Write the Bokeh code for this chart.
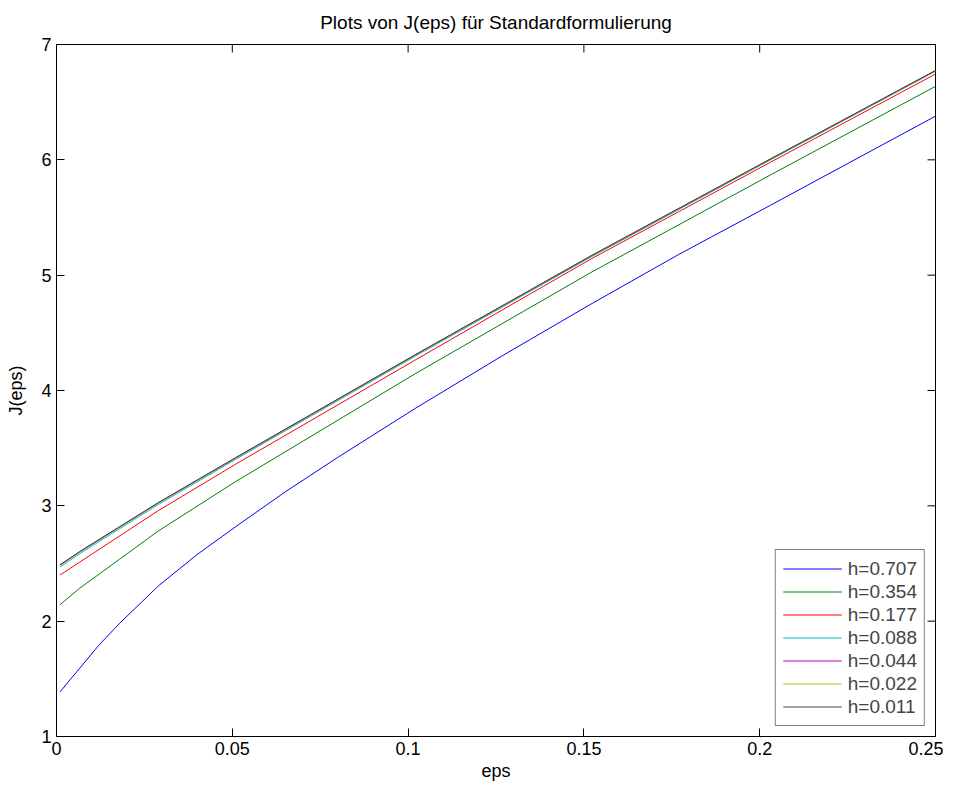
import math
from bokeh.plotting import figure
from bokeh.models import Range1d, FixedTicker, Legend, LegendItem
from bokeh.embed import file_html
from bokeh.resources import INLINE

# h = 0.707 (strongly curved, read at more points)
eps_h0707 = [0.001, 0.0066, 0.012, 0.018, 0.029, 0.040, 0.051, 0.065, 0.080,
             0.102, 0.127, 0.152, 0.177, 0.203, 0.25]
J_0707 = [1.387, 1.592, 1.790, 1.983, 2.306, 2.578, 2.820, 3.120, 3.420,
          3.844, 4.305, 4.749, 5.180, 5.605, 6.379]

# finer meshes (nearly straight)
eps = [0.001, 0.0066, 0.018, 0.029, 0.051, 0.102, 0.152, 0.203, 0.25]
J_0354 = [2.143, 2.286, 2.538, 2.783, 3.211, 4.145, 5.023, 5.868, 6.637]
J_0177 = [2.400, 2.512, 2.740, 2.959, 3.362, 4.264, 5.140, 5.978, 6.744]
J_0088 = [2.469, 2.585, 2.803, 3.012, 3.404, 4.297, 5.157, 5.998, 6.768]
J_0044 = [2.484, 2.599, 2.816, 3.025, 3.415, 4.307, 5.165, 6.005, 6.773]
J_0022 = [2.488, 2.603, 2.819, 3.028, 3.418, 4.309, 5.167, 6.006, 6.774]
J_0011 = [2.489, 2.604, 2.820, 3.029, 3.419, 4.310, 5.168, 6.007, 6.775]

labels = ["h=0.707", "h=0.354", "h=0.177", "h=0.088", "h=0.044", "h=0.022", "h=0.011"]
xs = [eps_h0707, eps, eps, eps, eps, eps, eps]
series = [J_0707, J_0354, J_0177, J_0088, J_0044, J_0022, J_0011]
colors = ["#0000ff", "#008000", "#ff0000", "#00bfbf", "#bf00bf", "#bfbf00", "#404040"]

x_ticks = [0, 0.05, 0.1, 0.15, 0.2, 0.25]
x_tick_labels = ["0", "0.05", "0.1", "0.15", "0.2", "0.25"]
y_ticks = [1, 2, 3, 4, 5, 6, 7]

FONT = "Liberation Sans"

p = figure(frame_width=879, frame_height=692, output_backend="svg", toolbar_location=None,
           x_range=Range1d(x_ticks[0], x_ticks[-1]), y_range=Range1d(y_ticks[0], y_ticks[-1]),
           min_border_left=56, min_border_top=44, min_border_right=8, min_border_bottom=45,
           title="Plots von J(eps) für Standardformulierung")
p.title.align = "center"
p.title.text_font = FONT
p.title.text_font_size = "19px"
p.title.text_font_style = "normal"
p.title.text_color = "black"
p.title.padding = (0, 0, 0, 7)

p.xgrid.visible = False
p.ygrid.visible = False
p.outline_line_color = "black"
p.outline_line_width = 1
p.outline_line_alpha = 1
p.background_fill_color = "white"
p.border_fill_color = "white"

for ax, ticks in ((p.xaxis[0], x_ticks), (p.yaxis[0], y_ticks)):
    ax.ticker = FixedTicker(ticks=ticks)
    ax.major_tick_in = 8
    ax.major_tick_out = 0
    ax.minor_tick_line_color = None
    ax.axis_line_color = None
    ax.major_tick_line_color = "black"
    ax.major_label_text_font = FONT
    ax.major_label_text_font_size = "18px"
    ax.major_label_text_color = "black"
    ax.major_label_standoff = 5
    ax.axis_label_text_font = FONT
    ax.axis_label_text_font_size = "18px"
    ax.axis_label_text_font_style = "normal"
    ax.axis_label_text_color = "black"
    ax.axis_label_standoff = 3

p.xaxis[0].major_label_overrides = {t: l for t, l in zip(x_ticks, x_tick_labels)}
p.xaxis[0].axis_label = "eps"
p.yaxis[0].axis_label = "J(eps)"
p.yaxis[0].axis_label_standoff = 12

# inward ticks on top and right edges of the box (clipped to frame)
p.scatter(x=x_ticks, y=[y_ticks[-1]] * len(x_ticks), marker="dash", angle=math.pi / 2,
          size=16, line_color="black", line_width=1)
p.scatter(x=[x_ticks[-1]] * len(y_ticks), y=y_ticks, marker="dash", angle=0,
          size=16, line_color="black", line_width=1)

items = []
for lab, xv, ys, c in zip(labels, xs, series, colors):
    r = p.line(xv, ys, line_color=c, line_width=1)
    items.append(LegendItem(label=lab, renderers=[r]))

legend = Legend(items=items, location="bottom_right")
legend.border_line_color = "black"
legend.border_line_width = 1
legend.background_fill_color = "white"
legend.background_fill_alpha = 1
legend.label_text_font = FONT
legend.label_text_font_size = "19px"
legend.label_height = 23
legend.glyph_height = 23
legend.glyph_width = 59
legend.label_standoff = 6
legend.spacing = 0
legend.padding = 7
legend.margin = 10
p.add_layout(legend)

open("out.html", "w").write(file_html(p, INLINE))
